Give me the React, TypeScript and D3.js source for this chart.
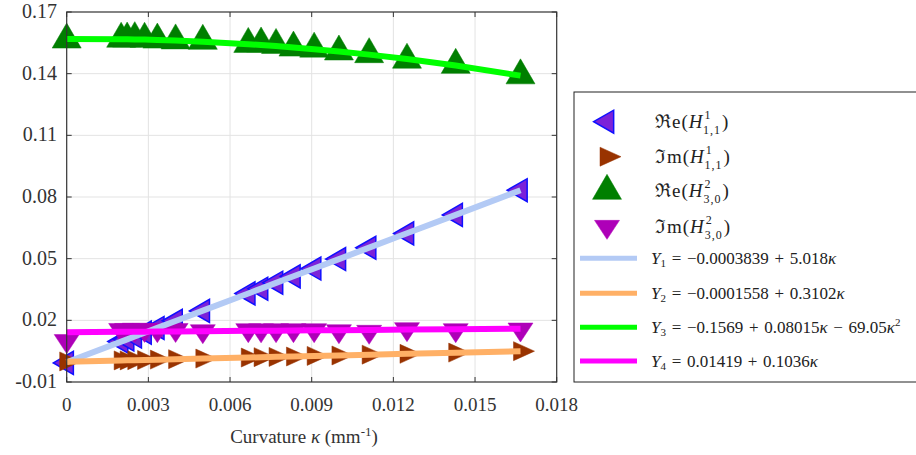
import React from "react";
import * as d3 from "d3";

const kappa = [0, 0.002, 0.00222, 0.0025, 0.00286, 0.00333, 0.004, 0.005, 0.00667, 0.00714, 0.00769, 0.00833, 0.00909, 0.01, 0.01111, 0.0125, 0.01429, 0.01667];
const reH11 = [-0.0007, 0.0097, 0.0107, 0.0121, 0.014, 0.0163, 0.0198, 0.0246, 0.0331, 0.0354, 0.0383, 0.0414, 0.0452, 0.0498, 0.0553, 0.0623, 0.0713, 0.0833];
const imH11 = [0.0, 0.0005, 0.0005, 0.0006, 0.0007, 0.0009, 0.0011, 0.0014, 0.0019, 0.0021, 0.0022, 0.0024, 0.0027, 0.0029, 0.0033, 0.0037, 0.0043, 0.005];
const reH30 = [0.1565, 0.1569, 0.157, 0.1572, 0.1569, 0.1565, 0.1561, 0.1559, 0.1544, 0.1546, 0.1539, 0.1526, 0.1521, 0.1507, 0.1494, 0.1467, 0.1442, 0.1391];
const imH30 = [0.01, 0.0154, 0.0154, 0.0155, 0.0154, 0.0153, 0.0154, 0.0148, 0.0153, 0.0152, 0.0153, 0.0153, 0.0153, 0.0148, 0.0145, 0.0158, 0.0153, 0.0156];

// fit coefficients (constant, linear, quadratic)
const fit1 = [-0.0003839, 5.018];
const fit2 = [-0.0001558, 0.3102];
const fit3 = [0.1569, 0.08015, -69.05];
const fit4 = [0.01419, 0.1036];

const xTicks = [0, 0.003, 0.006, 0.009, 0.012, 0.015, 0.018];
const xTickLabels = ["0", "0.003", "0.006", "0.009", "0.012", "0.015", "0.018"];
const yTicks = [-0.01, 0.02, 0.05, 0.08, 0.11, 0.14, 0.17];
const yTickLabels = ["-0.01", "0.02", "0.05", "0.08", "0.11", "0.14", "0.17"];

const W = 916;
const H = 455;
const L = 66.7, R = 556.7, T = 12, B = 382;

const FONT = '"Liberation Serif", "DejaVu Serif", serif';
const SP = "\u2004";

type Dir = "up" | "down" | "left" | "right";
function tri(dir: Dir, w: number, h: number): string {
  if (dir === "up") return `M0,${(-2 * h) / 3}L${w / 2},${h / 3}L${-w / 2},${h / 3}Z`;
  if (dir === "down") return `M0,${(2 * h) / 3}L${w / 2},${-h / 3}L${-w / 2},${-h / 3}Z`;
  if (dir === "left") return `M${(-2 * w) / 3},0L${w / 3},${-h / 2}L${w / 3},${h / 2}Z`;
  return `M${(2 * w) / 3},0L${-w / 3},${-h / 2}L${-w / 3},${h / 2}Z`;
}

const poly = (c: number[]) => (k: number) => c.reduce((s, v, i) => s + v * Math.pow(k, i), 0);

export default function App() {
  const x = d3.scaleLinear().domain([0, 0.018]).range([L, R]);
  const y = d3.scaleLinear().domain([-0.01, 0.17]).range([B, T]);

  const series = [
    { vals: reH11, dir: "left" as Dir, w: 20, h: 23, fill: "#7B22D8", stroke: "#1010FF", sw: 1.5 },
    { vals: imH11, dir: "right" as Dir, w: 21, h: 19, fill: "#993300", stroke: "#993300", sw: 0.5 },
    { vals: reH30, dir: "up" as Dir, w: 29, h: 25, fill: "#007F00", stroke: "#007F00", sw: 0.5 },
    { vals: imH30, dir: "down" as Dir, w: 25, h: 19, fill: "#AE00B8", stroke: "#AE00B8", sw: 0.5 },
  ];

  const fits = [
    { c: fit1, color: "#B3CAF5" },
    { c: fit2, color: "#FFB066" },
    { c: fit3, color: "#00FF00" },
    { c: fit4, color: "#FF00FF" },
  ];

  const lineGen = (c: number[]) =>
    d3
      .line<number>()
      .x((k) => x(k))
      .y((k) => y(poly(c)(k)))(kappa) || "";

  const legendMarkerX = 607;
  const legendTextX = 655;
  const markerRows = [121.7, 156.7, 191, 226.7];
  const lineRows = [258.3, 293.3, 327.3, 361];

  const tickLen = 5;
  const txt: React.CSSProperties = { fontFamily: FONT };

  return (
    <svg width={W} height={H} style={{ position: "absolute", left: 0, top: 0, background: "#fff", fontFamily: FONT }}>
      {xTicks.slice(1, -1).map((t) => (
        <line key={"gx" + t} x1={x(t)} x2={x(t)} y1={T} y2={B} stroke="#E3E3E3" strokeWidth={1} />
      ))}
      {yTicks.slice(1, -1).map((t) => (
        <line key={"gy" + t} x1={L} x2={R} y1={y(t)} y2={y(t)} stroke="#E3E3E3" strokeWidth={1} />
      ))}

      {series.map((s, si) => (
        <g key={"s" + si}>
          {kappa.map((k, i) => (
            <path
              key={i}
              d={tri(s.dir, s.w, s.h)}
              transform={`translate(${x(k)},${y(s.vals[i])})`}
              fill={s.fill}
              stroke={s.stroke}
              strokeWidth={s.sw}
            />
          ))}
        </g>
      ))}

      {fits.map((f, i) => (
        <path key={"f" + i} d={lineGen(f.c)} fill="none" stroke={f.color} strokeWidth={6} />
      ))}

      <rect x={L} y={T} width={R - L} height={B - T} fill="none" stroke="#333" strokeWidth={1.2} />
      {xTicks.map((t) => (
        <g key={"xt" + t}>
          <line x1={x(t)} x2={x(t)} y1={B} y2={B - tickLen} stroke="#333" />
          <line x1={x(t)} x2={x(t)} y1={T} y2={T + tickLen} stroke="#333" />
        </g>
      ))}
      {yTicks.map((t) => (
        <g key={"yt" + t}>
          <line x1={L} x2={L + tickLen} y1={y(t)} y2={y(t)} stroke="#333" />
          <line x1={R} x2={R - tickLen} y1={y(t)} y2={y(t)} stroke="#333" />
        </g>
      ))}
      {xTicks.map((t, i) => (
        <text key={"xl" + t} x={x(t)} y={411} textAnchor="middle" fontSize={19} fill="#333" style={txt}>
          {xTickLabels[i]}
        </text>
      ))}
      {yTicks.map((t, i) => (
        <text key={"yl" + t} x={57} y={y(t) + 6} textAnchor="end" fontSize={20} fill="#333" style={txt}>
          {yTickLabels[i]}
        </text>
      ))}
      <text x={304} y={443} textAnchor="middle" fontSize={19} fill="#333" style={txt}>
        Curvature <tspan fontStyle="italic">κ</tspan> (mm<tspan dy={-7} fontSize={13}>-1</tspan>
        <tspan dy={7}>)</tspan>
      </text>

      <rect x={574} y={92} width={360} height={290} fill="#fff" stroke="#222" strokeWidth={1} />
      {series.map((s, i) => (
        <path
          key={"lm" + i}
          d={tri(s.dir, s.w, s.h)}
          transform={`translate(${legendMarkerX},${markerRows[i]})`}
          fill={s.fill}
          stroke={s.stroke}
          strokeWidth={s.sw}
        />
      ))}
      {[
        { p: "ℜe(", sup: "1", sub: "1,1" },
        { p: "ℑm(", sup: "1", sub: "1,1" },
        { p: "ℜe(", sup: "2", sub: "3,0" },
        { p: "ℑm(", sup: "2", sub: "3,0" },
      ].map((r, i) => (
        <text key={"lt" + i} x={legendTextX} y={markerRows[i] + 6} fontSize={19} letterSpacing={1} fill="#222" style={txt}>
          {r.p}
          <tspan fontStyle="italic">H</tspan>
          <tspan dx={1} dy={-9} fontSize={12}>{r.sup}</tspan>
          <tspan dx={-8} dy={15} fontSize={12}>{r.sub}</tspan>
          <tspan dx={1} dy={-6}>)</tspan>
        </text>
      ))}
      {fits.map((f, i) => (
        <line key={"ll" + i} x1={580} x2={637} y1={lineRows[i]} y2={lineRows[i]} stroke={f.color} strokeWidth={5} />
      ))}
      {[
        { sub: "1", body: `${SP}=${SP}−0.0003839${SP}+${SP}5.018`, tail: "" },
        { sub: "2", body: `${SP}=${SP}−0.0001558${SP}+${SP}0.3102`, tail: "" },
        { sub: "3", body: `${SP}=${SP}−0.1569${SP}+${SP}0.08015`, tail: `${SP}−${SP}69.05` },
        { sub: "4", body: `${SP}=${SP}0.01419${SP}+${SP}0.1036`, tail: "" },
      ].map((r, i) => (
        <text key={"le" + i} x={651} y={lineRows[i] + 6} fontSize={17} fill="#222" style={txt}>
          <tspan fontStyle="italic">Y</tspan>
          <tspan dy={3} fontSize={11}>{r.sub}</tspan>
          <tspan dy={-3}>{r.body}</tspan>
          <tspan fontStyle="italic">κ</tspan>
          {r.tail ? <tspan>{r.tail}</tspan> : null}
          {r.tail ? <tspan fontStyle="italic">κ</tspan> : null}
          {r.tail ? (
            <tspan dy={-7} fontSize={11}>
              2
            </tspan>
          ) : null}
        </text>
      ))}
    </svg>
  );
}
